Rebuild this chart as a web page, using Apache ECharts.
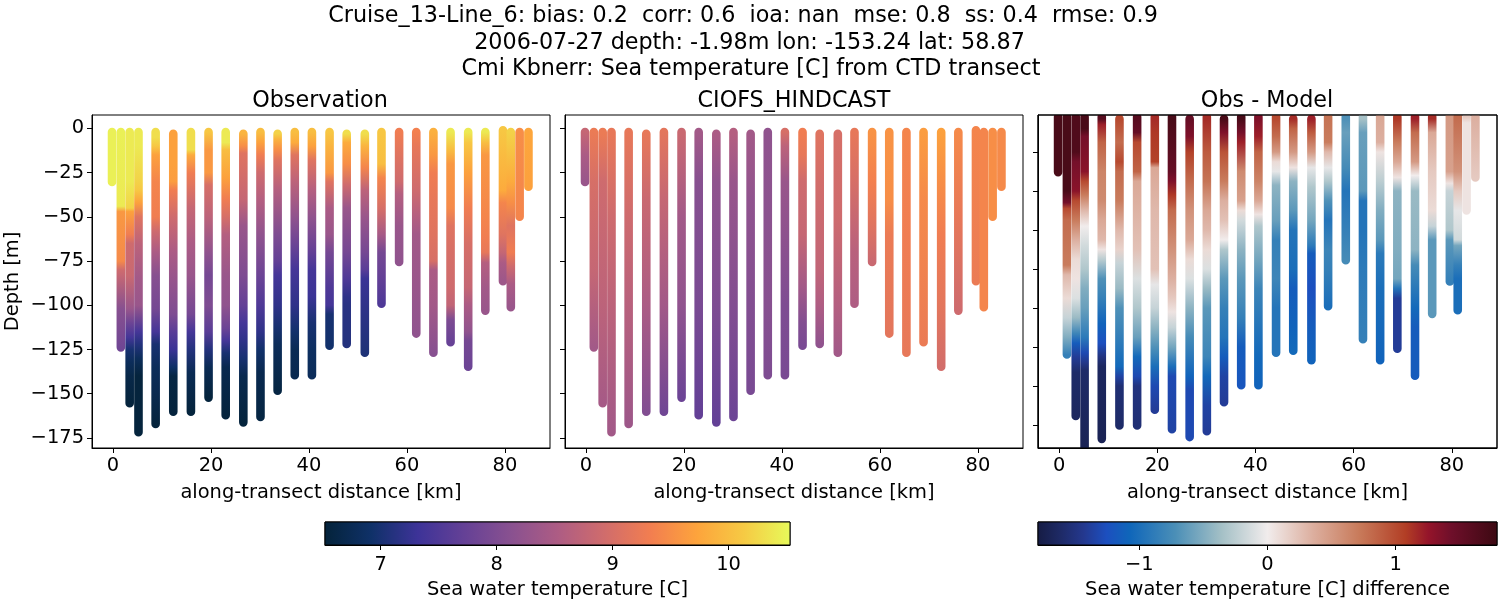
<!DOCTYPE html>
<html>
<head>
<meta charset="utf-8">
<script src="https://cdn.jsdelivr.net/npm/echarts@6/dist/echarts.min.js"></script>
<style>html,body{margin:0;padding:0;background:#fff}#main{width:1500px;height:600px}</style>
</head>
<body>
<div id="main"></div>
<script>
var stationKm = [-0.2,1.6,3.4,5.2,8.7,12.3,15.9,19.5,23,26.6,30.1,33.6,37.1,40.6,44.2,47.7,51.4,54.8,58.4,61.9,65.4,68.9,72.5,76,79.6,81.2,83,84.8];
var stationTop = [2,2,2,2,2,3,2,2,2,3,2,3,2,2,2,3,3,2,2,2,2,2,2,2,1,2,2,2];
var stationBottom = [30.3,123.8,155.4,171.8,167.1,160.2,160.2,152.2,162.2,166.2,163.2,148.3,139.6,139.6,122.9,121.9,126.8,99.1,75.5,116,126.8,120.9,134.7,103,86.4,101.1,49.9,33];

// each station: depth, value, depth, value ...
var obsProfiles = [
[2,10.45,30,10.45],
[2,10.45,44,10.4,47,9.6,75,9.45,80,8.9,83,8.8,102,8.1,124,7.85],
[2,10.4,30,10.4,45,10.2,47,9.7,60,9.3,65,8.9,83,8.85,102,8.3,110,7.8,118,7.4,125,7,132,6.8,140,6.65,155,6.55],
[2,10.4,10,10.4,30,10.2,35,10.1,42,9.7,50,9.1,65,8.7,85,8.4,100,8.3,115,7.4,122,7.1,130,6.8,140,6.55,172,6.55],
[2,10.3,5,10.3,10,10.1,15,9.7,30,9.4,50,9.3,58,8.9,70,8.5,83,8.1,102,7.9,115,7.4,122,7,135,6.8,150,6.7,167,6.55],
[3,9.7,20,9.7,30,9.65,35,9.3,50,8.9,70,8.5,83,8.3,105,8,115,7.6,125,7.3,135,6.9,140,6.6,160,6.55],
[2,10.3,12,10.3,15,9.8,25,9.3,37,9,45,8.8,65,8.5,83,8.3,105,7.9,115,7.4,125,7.1,138,6.75,160,6.55],
[2,10.1,12,9.6,25,9.6,32,9,50,8.7,70,8.2,83,7.9,100,8,115,7.6,125,7.1,135,6.75,152,6.55],
[2,10.4,8,10.4,12,10,28,9.7,40,9.3,50,9,60,8.6,83,8.3,100,8.2,113,7.8,120,7.4,127,7,135,6.7,162,6.55],
[3,9.9,10,9.5,14,9.1,40,8.8,55,8.3,83,8,100,7.7,110,7.4,120,7.2,130,7,140,6.7,166,6.55],
[2,10,8,9.7,15,9.3,25,8.9,40,8.6,60,8.2,83,7.8,100,7.5,115,7.2,125,6.95,138,6.7,163,6.6],
[3,10.2,6,9.9,12,9.5,18,9.1,35,8.6,60,8,75,7.7,83,7.4,100,7.2,112,7,122,6.8,148,6.6],
[2,10,8,9.8,15,9.1,30,8.7,50,8.2,65,7.8,80,7.4,100,7.2,115,6.95,125,6.75,139,6.7],
[2,10,10,9.7,18,9.1,35,8.6,50,8.2,70,7.7,80,7.4,95,7.3,110,7,125,6.85,139,6.8],
[2,10.1,10,9.9,25,9.6,30,9.1,45,8.5,60,8.3,70,7.9,90,7.5,100,7.4,105,7,122,6.95],
[3,10.3,8,9.8,20,9.5,32,8.9,45,8.3,70,7.9,85,7.5,95,7.2,100,7.15,122,7.1],
[3,10.3,10,9.9,22,9.4,35,8.7,50,8.3,70,7.9,80,7.6,85,7.3,100,7.2,127,7.05],
[2,10.1,20,10,28,9.4,45,9,60,8.45,70,7.9,85,7.7,99,7.5],
[2,9.3,15,9.1,30,8.9,37,8.6,55,8.3,75,8.2],
[2,9.35,10,9.2,35,8.9,50,8.6,60,8.4,90,8.3,116,8.2],
[2,9.85,15,9.6,25,9.3,40,9.2,60,9.1,75,9,80,8.5,100,8.4,127,8.1],
[2,10.4,12,10,20,9.6,45,9.45,55,9.1,70,9,90,8.9,100,8.75,108,8,121,7.75],
[2,10.4,8,10.1,25,9.7,45,9.3,65,9,90,8.8,100,8.5,115,8.2,120,7.9,135,7.8],
[2,10.4,8,10,15,9.6,50,9.4,62,9.3,70,9.2,76,8.6,90,8.4,103,8.3],
[1,10.1,35,9.8,42,9.4,60,9.1,70,8.8,76,8.5,86,8.35],
[2,10.2,30,9.8,42,9.5,55,9.1,70,9.3,78,8.9,88,8.5,101,8.3],
[2,9.5,50,9.4],
[2,9.75,33,9.7]
];
var modelProfiles = [
[2,8.8,15,8.5,30,8.3],
[2,9.25,30,9,80,8.8,124,8.4],
[3,9.25,30,8.9,100,8.7,155,8.45],
[3,9.2,50,8.9,100,8.7,172,8.4],
[2,9.2,50,8.9,100,8.65,167,8.35],
[3,9.2,40,8.85,100,8.5,160,8.05],
[2,9.15,40,8.8,100,8.4,160,7.85],
[3,8.85,50,8.4,100,8.2,152,7.8],
[3,8.4,30,8.1,100,7.95,162,7.7],
[3,8.5,30,8.2,100,8,166,7.7],
[3,8.6,30,8.3,100,8.05,163,7.8],
[3,8.4,40,8.2,100,8.05,148,7.95],
[2,8.2,50,8.15,100,8.1,139,8],
[2,9,10,8.7,30,8.3,100,8,139,7.95],
[2,9.3,15,9.2,30,8.9,60,8.8,90,8.4,110,8.05,123,7.95],
[3,9.1,30,8.95,80,8.75,100,8.55,122,8.2],
[3,9,50,8.9,100,8.6,127,8.4],
[2,9.2,30,9,70,8.65,99,8.55],
[2,9.55,30,9.35,55,9.1,75,8.85],
[2,9.55,40,9.5,60,9.25,116,9.15],
[2,9.4,60,9.3,127,9.2],
[2,9.65,40,9.45,121,9.25],
[2,9.7,30,9.5,60,9.3,100,9.15,135,8.95],
[2,9.45,50,9.2,103,8.9],
[1,9.4,86,9.25],
[2,9.4,101,9.4],
[2,9.5,50,9.5],
[2,9.45,33,9.45]
];
var diffProfiles = [
[2,1.7,30,1.7],
[2,1.7,40,1.7,46,1.4,49,1,55,0.8,78,0.7,83,0.3,95,0.1,105,-0.2,115,-0.5,124,-0.85],
[2,1.65,20,1.65,25,1.4,40,1.3,45,1,55,0.7,65,0.35,75,0.1,85,0.05,95,-0.1,105,-0.4,113,-0.8,118,-1.15,125,-1.4,133,-1.6,155,-1.65],
[2,1.7,8,1.7,12,1.4,30,1.3,35,1,42,0.7,50,0.3,58,0,68,-0.15,80,-0.3,90,-0.5,100,-0.6,115,-0.9,123,-1.3,128,-1.45,132,-1.6,172,-1.7],
[3,1.6,6,1.2,15,0.85,30,0.65,45,0.6,55,0.4,65,0.3,70,0.05,75,-0.25,85,-0.7,95,-0.85,108,-1.1,118,-1.25,125,-1.5,130,-1.65,167,-1.7],
[3,1,15,0.8,25,1,30,0.8,45,0.7,60,0.3,70,0.15,77,-0.2,90,-0.4,100,-0.7,110,-0.8,130,-1.05,135,-1.35,140,-1.55,160,-1.6],
[3,1.6,10,1.5,15,1,30,0.85,35,0.4,70,0.25,85,-0.1,100,-0.3,115,-0.6,125,-1.05,135,-1.3,140,-1.5,160,-1.55],
[3,1.15,10,1.1,25,1.05,28,0.4,50,0.3,80,0.25,88,-0.05,100,-0.2,110,-0.45,120,-0.7,130,-1,140,-1.3,152,-1.4],
[3,1.7,30,1.5,35,1.35,42,1.1,50,0.8,70,0.55,85,0.35,95,0.2,102,0.05,110,-0.2,120,-0.55,130,-1,135,-1.3,162,-1.35],
[3,1.5,12,1.35,20,1.05,35,0.8,50,0.55,65,0.4,75,0.1,85,-0.1,100,-0.45,115,-0.75,135,-1.1,142,-1.3,166,-1.3],
[3,1.15,20,0.9,35,0.75,50,0.4,60,0.3,70,0.1,80,-0.1,90,-0.4,100,-0.65,125,-0.8,135,-1.05,150,-1.35,163,-1.4],
[3,1.7,10,1.35,20,0.95,35,0.7,45,0.35,55,0.25,65,0,70,-0.3,85,-0.65,100,-0.85,115,-0.95,125,-1.15,135,-1.35,148,-1.4],
[3,1.7,10,1.4,15,1.2,30,0.6,45,0.45,50,0.1,55,-0.15,70,-0.45,85,-0.65,105,-0.85,120,-1.15,139,-1.2],
[3,1.35,12,1.2,20,0.85,35,0.65,45,0.4,52,0.05,58,-0.3,75,-0.55,90,-0.8,110,-0.95,125,-1.05,139,-1.1],
[3,1,12,0.8,20,0.5,25,0.1,30,-0.05,37,-0.45,55,-0.6,65,-0.85,85,-0.8,100,-0.95,122,-0.95],
[3,1.15,8,0.85,20,0.5,28,0.05,35,-0.45,50,-0.65,60,-0.95,80,-1,90,-1.15,110,-1.1,122,-1.05],
[3,1.2,10,0.9,20,0.5,28,-0.05,38,-0.3,55,-0.55,68,-0.9,72,-1.15,90,-1.25,110,-1.15,127,-1.1],
[3,0.75,15,0.7,20,0.3,28,-0.05,35,-0.3,45,-0.7,55,-0.95,70,-0.8,80,-0.85,99,-1],
[3,-0.7,10,-0.6,28,-0.75,40,-0.95,60,-0.85,75,-0.75],
[3,-0.35,10,-0.6,40,-0.65,45,-0.95,60,-0.95,80,-0.9,116,-0.85],
[3,0.4,15,0.35,20,0.05,35,-0.25,50,-0.5,65,-0.65,72,-0.9,90,-1,127,-1.1],
[3,1.1,15,0.7,25,0.4,33,0.05,40,-0.45,70,-0.5,85,-0.55,90,-0.95,95,-1.4,121,-1.4],
[3,1.2,10,0.8,25,0.5,32,0,40,-0.4,70,-0.45,78,-0.75,100,-1.05,110,-1.15,135,-1.15],
[3,1.15,10,0.4,30,0.2,50,0.1,58,-0.2,65,-0.65,103,-0.65],
[1,0.5,30,0.45,36,0.05,40,-0.2,60,-0.3,65,-0.65,86,-0.85],
[2,0.8,30,0.55,40,0.2,50,-0.05,65,-0.15,68,-0.55,78,-0.85,85,-1,101,-1],
[2,0.2,5,0.05,50,0.05],
[2,0.35,33,0.2]
];

var distTicks = [0,20,40,60,80];
var depthTicks = [-175,-150,-125,-100,-75,-50,-25,0];
var diffDepthTicks = [-160,-140,-120,-100,-80,-60,-40,-20];
var tempTicks = [7,8,9,10];
var diffTicks = [-1,0,1];
var tempRange = [6.52,10.53];
var diffRange = [-1.79,1.79];

var thermal = [[0,'#04233a'],[0.1,'#0f3168'],[0.2,'#3d3398'],[0.3,'#654196'],[0.4,'#895190'],[0.5,'#ad5c84'],[0.6,'#d06c6c'],[0.7,'#f27e50'],[0.8,'#fda43c'],[0.9,'#f6ca44'],[1,'#e7fa5a']];
var balance = [[0,'#161c44'],[0.05,'#1e2a66'],[0.1,'#24388e'],[0.15,'#1c4fbf'],[0.2,'#0f66ba'],[0.3,'#4b8fb7'],[0.4,'#a4c0c6'],[0.5,'#f1ecec'],[0.6,'#dcae9e'],[0.7,'#c87a5a'],[0.8,'#b23e25'],[0.85,'#94142a'],[0.9,'#6e0f2a'],[1,'#3c0912']];

var FONT = 'DejaVu Sans';
var LABEL = 19.44, TITLE = 22.28;

function colorAt(map, range, v) {
    var t = (v - range[0]) / (range[1] - range[0]);
    t = Math.max(0, Math.min(1, t));
    for (var i = 1; i < map.length; i++) {
        if (t <= map[i][0]) {
            var u = (t - map[i-1][0]) / (map[i][0] - map[i-1][0]);
            return echarts.color.lerp(u, [map[i-1][1], map[i][1]]);
        }
    }
    return map[map.length-1][1];
}

function stationData() {
    return stationKm.map(function (km, i) {
        return [km, -stationTop[i], -stationBottom[i], i];
    });
}

function profileItem(profiles, map, range) {
    return function (params, api) {
        var i = api.value(3);
        var km = api.value(0);
        var a = api.coord([km, api.value(1)]);
        var b = api.coord([km, api.value(2)]);
        var r = 4.3;
        var y0 = a[1] - r, h = b[1] - a[1] + 2 * r;
        var p = profiles[i], stops = [];
        for (var k = 0; k < p.length; k += 2) {
            var py = api.coord([km, -p[k]])[1];
            stops.push({offset: Math.max(0, Math.min(1, (py - y0) / h)), color: colorAt(map, range, p[k+1])});
        }
        return {
            type: 'rect',
            shape: {x: a[0] - r, y: y0, width: 2 * r, height: h, r: r},
            style: {fill: new echarts.graphic.LinearGradient(0, 0, 0, 1, stops)}
        };
    };
}

function barItem(map) {
    return function (params, api) {
        var a = api.coord([api.value(0), 1]);
        var b = api.coord([api.value(1), 0]);
        return {
            type: 'rect',
            shape: {x: a[0], y: a[1], width: b[0] - a[0], height: b[1] - a[1]},
            style: {stroke: '#000', lineWidth: 1, fill: new echarts.graphic.LinearGradient(0, 0, 1, 0, map.map(function (s) {
                return {offset: s[0], color: s[1]};
            }))}
        };
    };
}

// frame on top of the clipped marks of the difference panel
function frameItem(params, api) {
    var c = params.coordSys;
    return {
        type: 'rect',
        shape: {x: c.x, y: c.y, width: c.width, height: c.height},
        style: {stroke: '#000', lineWidth: 1, fill: null}
    };
}

function minus(v) { return String(v).replace('-', '\u2212'); }

function bottomAxis(idx, min, max, ticks, name, gap, margin) {
    return {
        type: 'value', gridIndex: idx, min: min, max: max, position: 'bottom',
        name: name, nameLocation: 'middle', nameGap: gap, nameMoveOverlap: false,
        nameTextStyle: {fontFamily: FONT, fontSize: LABEL, color: '#000'},
        splitLine: {show: false},
        axisLine: {show: true, onZero: false, lineStyle: {color: '#000', width: 1}},
        axisTick: {show: true, length: 5, customValues: ticks, lineStyle: {color: '#000', width: 1}},
        axisLabel: {show: true, margin: margin, customValues: ticks, formatter: minus, fontFamily: FONT, fontSize: LABEL, color: '#000'}
    };
}

function leftAxis(idx, min, max, ticks, showLabel, name) {
    return {
        type: 'value', gridIndex: idx, min: min, max: max, position: 'left',
        name: name, nameLocation: 'middle', nameGap: 70, nameMoveOverlap: false,
        nameTextStyle: {fontFamily: FONT, fontSize: LABEL, color: '#000'},
        splitLine: {show: false},
        axisLine: {show: true, onZero: false, lineStyle: {color: '#000', width: 1}},
        axisTick: {show: true, length: 5, customValues: ticks, lineStyle: {color: '#000', width: 1}},
        axisLabel: {show: showLabel, margin: 8, padding: [2, 0, 0, 0], customValues: ticks, formatter: minus, fontFamily: FONT, fontSize: LABEL, color: '#000'}
    };
}

function hiddenY(idx) {
    return {type: 'value', gridIndex: idx, min: 0, max: 1, show: false, splitLine: {show: false}};
}

function titleAt(text, x, y) {
    return {text: text, left: x, top: y, textAlign: 'center', textVerticalAlign: 'middle',
        textStyle: {fontFamily: FONT, fontSize: TITLE, fontWeight: 'normal', color: '#000'}};
}

function panelSeries(idx, profiles, map, range) {
    return {
        type: 'custom', xAxisIndex: idx, yAxisIndex: idx, clip: true,
        data: stationData(), encode: {x: 0, y: [1, 2]},
        renderItem: profileItem(profiles, map, range)
    };
}

var border = {show: true, borderColor: '#000', borderWidth: 1, backgroundColor: '#fff', containLabel: false};
var kmMin = -4.29, kmMax = 89.2;

var option = {
    animation: false,
    backgroundColor: '#fff',
    title: [
        titleAt('Cruise_13-Line_6: bias: 0.2  corr: 0.6  ioa: nan  mse: 0.8  ss: 0.4  rmse: 0.9', 738, 11.5),
        titleAt('2006-07-27 depth: -1.98m lon: -153.24 lat: 58.87', 744.5, 38),
        titleAt('Cmi Kbnerr: Sea temperature [C] from CTD transect', 746, 64.5),
        titleAt('Observation', 315, 96),
        titleAt('CIOFS_HINDCAST', 789, 96),
        titleAt('Obs - Model', 1262, 96)
    ],
    grid: [
        Object.assign({left: 92, top: 115, width: 458, height: 333}, border),
        Object.assign({left: 565, top: 115, width: 458, height: 333}, border),
        Object.assign({left: 1038, top: 115, width: 459, height: 333}, border),
        Object.assign({left: 325, top: 522, width: 465, height: 24}, border),
        Object.assign({left: 1038, top: 522, width: 459, height: 24}, border)
    ],
    xAxis: [
        bottomAxis(0, kmMin, kmMax, distTicks, 'along-transect distance [km]', 35, 8),
        bottomAxis(1, kmMin, kmMax, distTicks, 'along-transect distance [km]', 35, 8),
        bottomAxis(2, kmMin, kmMax, distTicks, 'along-transect distance [km]', 35, 8),
        bottomAxis(3, tempRange[0], tempRange[1], tempTicks, 'Sea water temperature [C]', 35, 10),
        bottomAxis(4, diffRange[0], diffRange[1], diffTicks, 'Sea water temperature [C] difference', 35, 10)
    ],
    yAxis: [
        leftAxis(0, -180.7, 7.6, depthTicks, true, 'Depth [m]'),
        leftAxis(1, -180.7, 7.6, depthTicks, false, ''),
        leftAxis(2, -171.8, -1, diffDepthTicks, false, ''),
        hiddenY(3),
        hiddenY(4)
    ],
    series: [
        panelSeries(0, obsProfiles, thermal, tempRange),
        panelSeries(1, modelProfiles, thermal, tempRange),
        panelSeries(2, diffProfiles, balance, diffRange),
        {type: 'custom', xAxisIndex: 2, yAxisIndex: 2, z: 5, silent: true, data: [[kmMin, -1]], encode: {x: 0, y: 1}, renderItem: frameItem},
        {type: 'custom', xAxisIndex: 3, yAxisIndex: 3, data: [tempRange], encode: {x: [0, 1]}, renderItem: barItem(thermal)},
        {type: 'custom', xAxisIndex: 4, yAxisIndex: 4, data: [diffRange], encode: {x: [0, 1]}, renderItem: barItem(balance)}
    ]
};

var myChart = echarts.init(document.getElementById('main'), null, {renderer: 'canvas'});
myChart.setOption(option);
</script>
</body>
</html>
